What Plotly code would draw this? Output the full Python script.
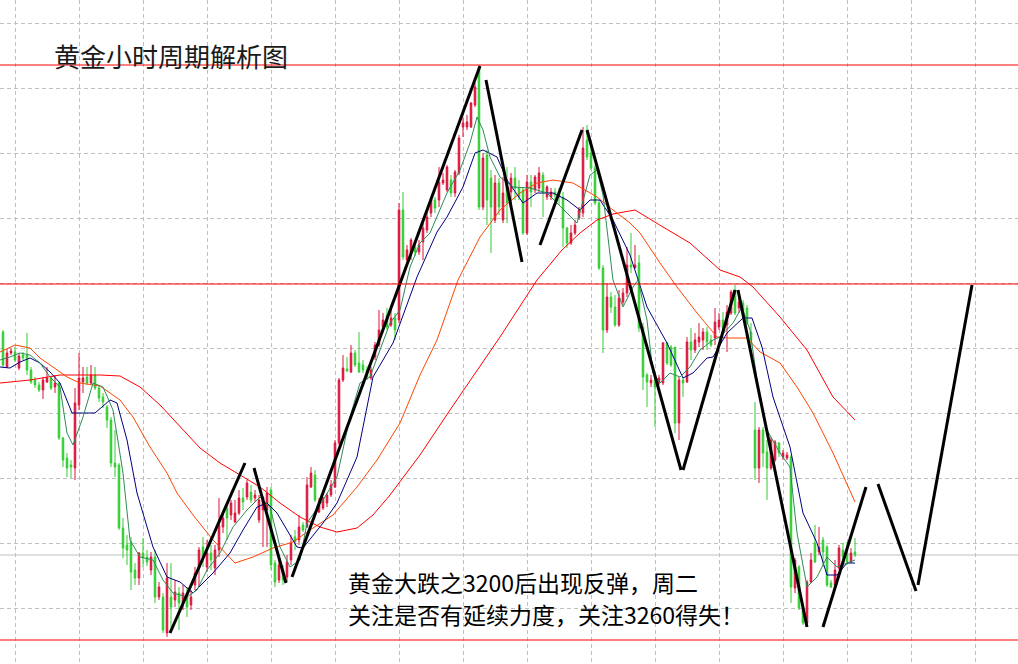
import plotly.graph_objects as go

# ---------------- candle data (hourly gold) ----------------
opens = [
3253.6,3246.6,3249.4,3249.6,3246.4,3249.0,3249.0,3246.0,3244.0,3243.0,
3242.0,3243.6,3244.4,3242.6,3243.4,3232.4,3228.4,3227.0,3226.4,3239.0,
3243.6,3244.6,3243.4,3245.0,3242.4,3240.6,3238.6,3236.0,3227.4,3227.0,
3214.4,3211.0,3211.6,3206.0,3204.4,3209.4,3208.6,3206.0,3208.6,3200.6,
3200.6,3193.4,3200.6,3200.0,3201.4,3199.4,3200.6,3199.0,3203.0,3206.4,
3210.6,3206.6,3209.4,3206.4,3210.0,3214.6,3218.4,3217.0,3215.6,3217.4,
3220.4,3220.6,3221.6,3220.4,3216.0,3218.0,3218.0,3222.0,3207.4,3204.0,
3206.0,3204.6,3208.0,3212.6,3212.0,3215.0,3214.6,3222.6,3225.0,3217.6,
3218.4,3219.4,3221.0,3222.6,3231.4,3244.0,3246.2,3245.6,3249.4,3247.4,
3247.0,3246.0,3244.4,3248.6,3251.0,3254.6,3257.0,3255.0,3256.4,3256.0,
3278.0,3268.0,3269.4,3270.6,3269.6,3271.6,3274.0,3277.4,3280.0,3280.0,
3283.4,3282.0,3284.0,3281.4,3285.4,3294.6,3294.6,3294.6,3299.0,3306.6,
3278.6,3289.0,3284.4,3276.0,3283.4,3276.0,3282.6,3281.6,3284.4,3282.4,
3282.0,3273.4,3283.6,3282.0,3282.4,3285.0,3280.6,3280.6,3281.6,3281.4,
3280.6,3274.4,3271.4,3273.4,3276.4,3277.4,3292.0,3289.4,3286.4,3279.4,
3266.4,3254.0,3260.6,3258.6,3255.0,3259.6,3261.4,3267.0,3266.4,3267.4,
3254.6,3245.0,3243.4,3244.0,3243.4,3243.4,3251.4,3250.6,3250.6,3235.4,
3244.0,3243.6,3251.6,3250.0,3251.6,3252.0,3253.6,3252.0,3252.4,3254.6,
3256.0,3255.0,3257.4,3262.0,3258.4,3259.4,3258.4,3253.6,3234.0,3226.4,
3234.0,3229.6,3226.4,3228.0,3231.4,3228.6,3228.4,3228.6,3202.4,3206.6,
3198.4,3195.4,3203.6,3211.4,3209.6,3212.0,3210.6,3203.4,3203.0,3206.4,
3210.0,3209.4,3207.6,3209.6]
highs = [
3254.0,3250.2,3250.4,3250.6,3249.4,3249.6,3253.4,3246.6,3244.6,3243.6,
3244.6,3246.6,3244.6,3245.0,3243.6,3232.6,3229.4,3228.0,3242.4,3249.4,
3246.6,3246.6,3247.0,3246.6,3243.0,3241.4,3239.0,3236.6,3234.0,3227.4,
3216.4,3213.0,3212.6,3207.4,3209.6,3212.4,3210.0,3209.6,3210.0,3203.6,
3201.4,3207.4,3207.4,3204.0,3202.6,3203.0,3202.6,3202.0,3206.6,3210.6,
3212.6,3212.0,3211.0,3211.0,3220.4,3217.6,3219.6,3220.0,3220.0,3222.0,
3222.4,3224.0,3223.0,3222.0,3221.0,3220.6,3222.6,3222.6,3208.0,3208.0,
3207.0,3209.0,3213.0,3214.0,3217.0,3215.6,3224.6,3226.6,3226.0,3220.4,
3220.6,3221.4,3224.0,3232.0,3244.4,3249.0,3248.6,3251.0,3250.0,3253.6,
3248.0,3246.8,3246.6,3251.6,3258.0,3257.4,3258.4,3259.0,3257.4,3279.4,
3281.6,3271.0,3272.4,3271.4,3272.0,3275.4,3277.6,3280.6,3280.6,3286.6,
3285.4,3287.0,3285.0,3286.0,3293.0,3296.6,3297.0,3299.6,3303.4,3307.0,
3289.4,3290.0,3286.0,3285.0,3284.4,3284.6,3286.6,3285.4,3286.6,3284.0,
3282.6,3285.0,3285.0,3285.0,3286.6,3285.6,3283.0,3282.4,3282.4,3282.4,
3281.6,3274.6,3275.0,3276.0,3278.6,3294.6,3295.0,3292.0,3287.0,3280.0,
3267.0,3263.4,3261.6,3261.0,3262.0,3262.4,3270.6,3273.4,3271.0,3269.0,
3255.4,3245.4,3245.0,3244.6,3245.0,3251.6,3251.6,3251.0,3250.6,3244.6,
3244.6,3252.6,3254.4,3253.4,3255.4,3254.4,3254.6,3253.0,3258.4,3257.4,
3257.6,3259.0,3262.0,3263.0,3260.4,3260.0,3259.0,3255.4,3239.6,3234.6,
3234.6,3232.0,3232.6,3232.0,3231.6,3230.0,3229.6,3229.0,3208.4,3207.0,
3199.0,3204.0,3209.4,3215.0,3214.6,3212.6,3211.0,3204.0,3208.0,3211.0,
3211.4,3211.6,3210.4,3212.4]
lows = [
3246.6,3246.4,3249.0,3247.6,3246.0,3248.0,3245.0,3243.2,3242.4,3241.6,
3240.2,3243.4,3242.0,3241.4,3232.0,3226.6,3224.6,3224.4,3224.0,3238.0,
3241.4,3243.0,3243.2,3242.0,3239.6,3238.4,3234.4,3226.6,3224.6,3214.0,
3208.4,3207.0,3202.0,3203.0,3203.0,3206.6,3206.8,3205.0,3199.4,3200.0,
3193.4,3192.6,3194.0,3198.6,3194.0,3198.0,3196.6,3198.0,3202.0,3202.6,
3206.6,3205.6,3206.0,3205.0,3208.6,3213.4,3212.0,3216.0,3215.4,3217.0,
3218.0,3220.0,3219.4,3219.6,3215.4,3210.6,3210.6,3206.0,3202.6,3203.4,
3203.0,3203.6,3207.0,3210.0,3211.0,3213.6,3214.4,3222.4,3219.6,3217.4,
3218.0,3218.6,3220.6,3222.4,3231.0,3243.6,3245.6,3245.4,3246.6,3245.4,
3245.4,3244.0,3244.0,3248.0,3250.6,3254.4,3254.0,3254.6,3252.0,3255.4,
3268.0,3267.6,3268.0,3268.8,3269.0,3268.0,3273.4,3276.6,3277.4,3278.6,
3283.0,3281.6,3280.6,3280.6,3285.0,3292.6,3294.0,3294.4,3298.6,3278.0,
3278.0,3275.0,3269.4,3275.4,3277.0,3275.4,3275.4,3278.6,3280.0,3280.0,
3273.0,3273.0,3278.6,3281.4,3281.6,3276.6,3280.0,3280.0,3280.0,3279.0,
3270.6,3270.4,3271.0,3273.0,3276.0,3276.6,3288.0,3286.0,3279.0,3266.0,
3249.4,3253.4,3257.4,3254.6,3254.6,3259.0,3260.6,3265.4,3266.4,3253.6,
3242.0,3238.6,3242.6,3234.6,3243.0,3243.0,3247.0,3246.6,3233.4,3232.0,
3240.6,3243.4,3248.0,3249.4,3250.6,3250.0,3250.0,3250.6,3251.0,3254.0,
3253.4,3249.6,3257.0,3257.0,3257.4,3257.4,3255.0,3250.6,3224.0,3223.4,
3226.6,3220.0,3226.0,3227.6,3228.6,3228.0,3228.0,3199.4,3201.4,3198.0,
3195.0,3194.6,3203.4,3207.4,3209.0,3206.6,3202.6,3202.4,3202.6,3206.0,
3206.6,3207.0,3207.4,3208.6]
closes = [
3247.0,3249.4,3249.8,3248.0,3248.8,3248.4,3246.0,3243.6,3243.0,3242.0,
3244.0,3244.4,3242.4,3243.4,3232.4,3228.0,3226.4,3226.6,3239.4,3244.4,
3244.4,3243.4,3245.0,3242.4,3240.4,3239.6,3236.0,3227.4,3226.6,3214.4,
3210.4,3210.0,3205.6,3204.4,3209.4,3208.4,3207.6,3208.6,3200.6,3202.6,
3194.0,3204.4,3198.6,3201.6,3199.4,3201.4,3198.6,3200.6,3205.4,3210.0,
3208.6,3209.4,3208.0,3210.0,3215.0,3216.4,3216.4,3219.4,3217.4,3220.4,
3219.6,3223.4,3220.0,3221.0,3220.0,3220.6,3221.4,3207.0,3203.6,3207.0,
3204.0,3207.6,3211.4,3211.6,3214.6,3214.0,3223.0,3225.4,3220.0,3219.0,
3220.4,3221.0,3223.0,3231.4,3244.0,3246.4,3245.8,3249.4,3247.0,3245.6,
3246.0,3244.6,3246.0,3251.0,3254.0,3256.0,3254.6,3256.4,3254.0,3278.0,
3268.6,3270.0,3272.0,3269.6,3271.0,3274.4,3276.6,3280.0,3278.4,3283.6,
3284.0,3286.6,3281.4,3285.6,3292.4,3295.4,3295.6,3299.4,3302.6,3278.6,
3288.4,3280.0,3278.6,3283.4,3278.6,3281.4,3279.4,3284.4,3282.4,3280.6,
3273.4,3283.6,3281.6,3284.6,3285.4,3281.6,3282.6,3281.6,3281.0,3280.6,
3274.4,3271.4,3273.4,3275.0,3278.0,3290.4,3288.6,3286.4,3279.4,3266.4,
3254.0,3260.6,3258.6,3255.0,3260.4,3261.4,3267.0,3266.6,3267.0,3254.4,
3244.6,3243.6,3244.0,3242.6,3244.4,3251.4,3247.4,3247.0,3235.4,3244.0,
3243.4,3251.6,3250.0,3252.0,3252.6,3253.6,3251.6,3251.0,3255.6,3256.0,
3254.4,3257.6,3261.6,3257.4,3259.6,3257.6,3255.4,3252.0,3226.4,3234.0,
3229.4,3226.4,3232.0,3231.6,3229.4,3229.4,3229.0,3202.6,3208.0,3198.4,
3195.4,3203.6,3208.0,3207.6,3210.6,3209.6,3203.0,3202.6,3206.0,3210.4,
3208.6,3207.6,3209.4,3209.0]
bars = list(range(len(opens)))

# ---------------- moving averages (sampled) ----------------
ma_fast_x = [-0.75,1.75,4.25,6.75,9.25,11.75,14.25,16,17.5,20,22.5,25,27.5,30,31.75,34.25,37.5,40,42.5,46,48.5,51,54.25,57.5,61,64.25,66.75,69.25,71.75,74.25,76,80,83.5,86.75,89.25,91.75,94.25,96.75,99.25,101.75,104.25,106.75,111,114.25,116.75,118.5,120,121.75,124.25,127.5,131.75,136,141,143.5,146.75,148.5,150,151,152.5,155,157.5,158.75,161,162.5,164.25,166.75,169.25,171.75,174.25,177.5,179.25,182.5,184.75,186.75,188.75,191,194.25,196.75,198.5,201,203.5,206,208.5,211,213]
ma_fast_y = [3248.0,3248.6,3249.4,3249.0,3247.4,3244.6,3242.6,3233.4,3231.0,3236.6,3243.4,3242.6,3238.0,3225.4,3212.0,3208.6,3208.0,3204.0,3201.4,3200.6,3202.0,3206.0,3209.4,3214.6,3218.0,3220.6,3218.6,3210.6,3206.6,3208.0,3215.4,3220.0,3224.6,3236.6,3243.4,3244.6,3250.0,3255.4,3258.0,3266.6,3271.4,3273.4,3281.4,3286.0,3291.4,3296.6,3294.0,3288.6,3284.6,3282.6,3282.4,3281.4,3277.4,3275.4,3285.0,3286.0,3281.0,3274.0,3264.0,3258.6,3262.6,3264.0,3256.0,3245.4,3243.4,3245.4,3244.6,3246.6,3250.0,3252.0,3252.6,3255.4,3258.6,3254.0,3242.6,3234.0,3229.4,3226.6,3213.4,3202.6,3204.6,3208.6,3206.6,3207.4,3208.0]

ma_mid_x = [-0.75,1.75,4.25,6.75,9.25,11.75,14.25,17.25,23,26.75,28.5,31,33.5,37.5,41,44.25,47.5,50,52.5,56.75,60,63.5,66,68.5,71,73.5,75,80,83.5,88.5,92.5,97.5,103.5,108.5,111,115,118,120,123.5,126,130,133.5,137.5,141,144.25,146.75,149.25,152.5,156.75,161,166,170,172.5,176,177.5,181,185,187.25,189.75,192.5,196.75,200,203.5,206,208.5,211,213]
ma_mid_y = [3246.6,3246.4,3247.6,3248.4,3247.4,3245.6,3243.4,3237.4,3237.4,3240.0,3239.4,3232.0,3221.4,3210.6,3204.6,3203.6,3201.4,3203.4,3205.4,3209.4,3214.0,3218.6,3219.4,3217.4,3214.0,3210.6,3210.4,3215.4,3219.4,3228.6,3244.6,3251.4,3264.6,3273.6,3276.6,3282.6,3289.4,3290.0,3288.6,3284.0,3279.4,3281.4,3281.4,3280.0,3278.0,3280.0,3280.0,3276.0,3269.0,3258.6,3251.4,3244.4,3245.4,3248.4,3248.6,3253.4,3256.4,3256.4,3250.6,3240.6,3230.6,3217.4,3211.4,3205.0,3205.0,3207.4,3207.4]

ma_slow_x = [-0.75,3,6.75,9.25,12.5,16,19.25,24.25,29.25,32.5,36.75,41,43.5,47.5,52.5,58,62.5,67.5,72.5,76.75,82.5,88.5,93.5,99.25,104.25,108.5,113.75,119.25,124.25,129.25,133.5,137.5,142.5,148.5,152.5,156.75,159.25,164.25,168.5,173.5,178.5,181,186,189.25,194.25,198.5,202.5,207.5,213]
ma_slow_y = [3249.6,3251.0,3250.4,3248.4,3246.6,3244.6,3243.4,3242.8,3240.0,3236.6,3230.6,3225.4,3221.4,3217.0,3212.0,3207.4,3208.6,3210.4,3211.6,3214.0,3217.0,3222.6,3228.0,3235.4,3245.0,3252.0,3264.0,3272.6,3278.0,3281.4,3283.4,3284.0,3283.4,3280.6,3278.0,3275.4,3273.4,3267.4,3262.6,3257.4,3252.6,3252.4,3252.4,3249.6,3247.4,3242.6,3237.4,3229.4,3219.6]

ma_long_x = [-0.75,6.75,14.25,24.25,29.25,34.25,39.25,44.25,49.25,54.25,59.25,64.25,69.25,74.25,79.25,83.5,88.5,92.5,96.75,104.25,111.75,124.25,133.5,139.75,144.25,148.5,152.5,158,165,171.75,179.25,184.25,187.5,194.25,201,207.5,213]
ma_long_y = [3243.4,3244.0,3245.0,3245.0,3244.8,3242.6,3239.0,3234.6,3230.4,3227.4,3225.0,3222.6,3219.4,3216.6,3214.6,3213.6,3214.4,3217.0,3221.0,3229.0,3238.0,3252.6,3264.0,3270.0,3273.4,3276.0,3277.2,3278.0,3274.6,3271.4,3266.0,3264.6,3262.6,3256.6,3250.0,3240.6,3236.0]

# ---------------- hand-drawn trend segments ----------------
seg_x0 = [41.75, 62.75, 72.25, 120.75, 134.25, 146.0, 170.0, 183.75, 205.0, 218.75, 228.75]
seg_y0 = [3193.4, 3226.4, 3204.6, 3304.0, 3271.0, 3294.0, 3226.0, 3262.0, 3194.6, 3223.2, 3203.0]
seg_x1 = [60.5, 70.75, 119.25, 129.75, 144.75, 169.5, 183.0, 201.0, 215.75, 228.25, 242.25]
seg_y1 = [3227.4, 3203.4, 3306.8, 3267.6, 3294.0, 3226.0, 3262.0, 3194.6, 3222.6, 3201.8, 3263.0]

# ---------------- horizontal levels ----------------
red_levels = [3307.0, 3263.2, 3192.0]
price_line = 3209.0

title_text = "黄金小时周期解析图"
note_lines = ["黄金大跌之3200后出现反弹，周二", "关注是否有延续力度，关注3260得失！"]

fig = go.Figure()

fig.add_trace(go.Candlestick(
    x=bars, open=opens, high=highs, low=lows, close=closes,
    increasing=dict(line=dict(color="#DC143C", width=1), fillcolor="#DC143C"),
    decreasing=dict(line=dict(color="#32CD32", width=1), fillcolor="#32CD32"),
    whiskerwidth=0, hoverinfo="skip", showlegend=False))

for xs, ys, col in [(ma_long_x, ma_long_y, "#FF0000"), (ma_slow_x, ma_slow_y, "#FF4500"),
                    (ma_mid_x, ma_mid_y, "#000080"), (ma_fast_x, ma_fast_y, "#2E8B57")]:
    fig.add_trace(go.Scatter(x=xs, y=ys, mode="lines", line=dict(color=col, width=1),
                             hoverinfo="skip", showlegend=False))

tx, ty = [], []
for a, b, c, d in zip(seg_x0, seg_y0, seg_x1, seg_y1):
    tx += [a, c, None]
    ty += [b, d, None]
fig.add_trace(go.Scatter(x=tx, y=ty, mode="lines", line=dict(color="black", width=3),
                         hoverinfo="skip", showlegend=False))

shapes = []
for lv in red_levels:
    shapes.append(dict(type="line", xref="paper", x0=0, x1=1, yref="y", y0=lv, y1=lv,
                       line=dict(color="#FF0000", width=1)))
shapes.append(dict(type="line", xref="paper", x0=0, x1=1, yref="y", y0=price_line, y1=price_line,
                   line=dict(color="#C0C0C0", width=1), layer="below"))

annotations = [
    dict(text=title_text, xref="paper", yref="paper", x=52/1018, y=1-56/664,
         xanchor="left", yanchor="middle", showarrow=False,
         font=dict(family="Noto Sans CJK SC", size=26, color="#1a1a1a")),
]
for k, (line_text, yc) in enumerate(zip(note_lines, [582, 614])):
    annotations.append(dict(text=line_text, xref="paper", yref="paper", x=347/1018, y=1-yc/664,
                            xanchor="left", yanchor="middle", align="left", showarrow=False,
                            borderpad=0,
                            font=dict(family="Noto Sans CJK SC", size=23, color="#000000")))

fig.update_layout(
    width=1018, height=664, margin=dict(l=0, r=0, t=0, b=0),
    paper_bgcolor="white", plot_bgcolor="white",
    showlegend=False, hovermode=False, boxgap=0.45,
    shapes=shapes, annotations=annotations,
    xaxis=dict(range=[-0.75, 253.75], showticklabels=False, ticks="", zeroline=False,
               showgrid=True, gridcolor="#C0C0C0", griddash="4px,3px", gridwidth=1,
               tick0=3.125, dtick=16, rangeslider=dict(visible=False), showline=False),
    yaxis=dict(range=[3187.2, 3320], showticklabels=False, ticks="", zeroline=False,
               showgrid=True, gridcolor="#C0C0C0", griddash="4px,3px", gridwidth=1,
               tick0=3315.34, dtick=13, showline=False),
)

fig.write_html("out.html", config={"displayModeBar": False},
               post_script="document.body.style.margin='0';document.documentElement.style.overflow='hidden';")
